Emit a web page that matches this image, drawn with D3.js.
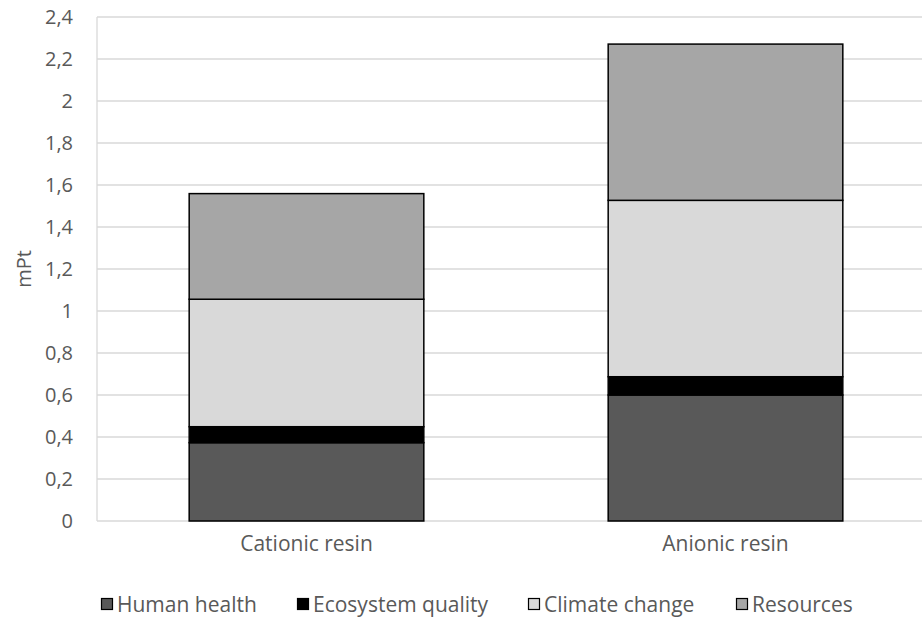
<!DOCTYPE html>
<html>
<head>
<meta charset="utf-8">
<script src="https://cdn.jsdelivr.net/npm/d3@7"></script>
<style>
  html, body { margin: 0; padding: 0; background: #fff; }
  svg { display: block; }
  text { font-family: "Open Sans", "Liberation Sans", sans-serif; fill: #595959; }
</style>
</head>
<body>
<svg id="chart" width="922" height="618"></svg>
<script>
const categories = ["Cationic resin", "Anionic resin"];
const seriesNames = ["Human health", "Ecosystem quality", "Climate change", "Resources"];
const humanHealth = [0.373, 0.600];
const ecosystemQuality = [0.076, 0.087];
const climateChange = [0.607, 0.840];
const resources = [0.503, 0.744];
const yTicks = [0, 0.2, 0.4, 0.6, 0.8, 1, 1.2, 1.4, 1.6, 1.8, 2, 2.2, 2.4];
const colors = ["#595959", "#000000", "#d9d9d9", "#a6a6a6"];

const seriesValues = [humanHealth, ecosystemQuality, climateChange, resources];
const table = categories.map((c, i) => {
  const row = { category: c };
  seriesNames.forEach((s, j) => { row[s] = seriesValues[j][i]; });
  return row;
});

const svg = d3.select("#chart");
const plotLeft = 97, plotRight = 935, plotTop = 17, plotBottom = 521;

const x = d3.scaleBand().domain(categories).range([plotLeft, plotRight])
  .paddingInner(0.44).paddingOuter(0.22);
const y = d3.scaleLinear().domain([0, 2.4]).range([plotBottom, plotTop]);

const fmt = v => d3.format("~g")(v).replace(".", ",");

// gridlines
svg.append("g").selectAll("line").data(yTicks.filter(t => t > 0)).join("line")
  .attr("x1", plotLeft).attr("x2", 922)
  .attr("y1", d => y(d)).attr("y2", d => y(d))
  .attr("stroke", "#d9d9d9").attr("stroke-width", 1.3);

// axis lines
svg.append("line").attr("x1", plotLeft).attr("x2", plotLeft)
  .attr("y1", y(2.4)).attr("y2", plotBottom).attr("stroke", "#d9d9d9").attr("stroke-width", 1.3);
svg.append("line").attr("x1", plotLeft).attr("x2", 922)
  .attr("y1", plotBottom).attr("y2", plotBottom).attr("stroke", "#d9d9d9").attr("stroke-width", 1.3);

// y tick labels
const yAxis = d3.axisLeft(y).tickValues(yTicks).tickFormat(fmt).tickSize(0).tickPadding(0);
const yg = svg.append("g").attr("transform", `translate(73,0)`).call(yAxis);
yg.select(".domain").remove();
yg.selectAll("text").attr("font-size", 20).attr("fill", "#595959")
  .style("font-family", '"Open Sans", sans-serif');

// x labels
const xAxis = d3.axisBottom(x).tickSize(0).tickPadding(0);
const xg = svg.append("g").attr("transform", `translate(0,536)`).call(xAxis);
xg.select(".domain").remove();
xg.selectAll("text").attr("font-size", 21).attr("fill", "#595959")
  .style("font-family", '"Open Sans", sans-serif');

// stacked bars
const stack = d3.stack().keys(seriesNames);
const stacked = stack(table);
svg.append("g").selectAll("g").data(stacked).join("g")
  .attr("fill", (d, i) => colors[i])
  .selectAll("rect").data(d => d).join("rect")
  .attr("x", d => x(d.data.category))
  .attr("width", x.bandwidth())
  .attr("y", d => y(d[1]))
  .attr("height", d => y(d[0]) - y(d[1]))
  .attr("stroke", "#000").attr("stroke-width", 1.5);

// y axis title
svg.append("text")
  .attr("transform", `translate(31,${(plotTop + plotBottom) / 2}) rotate(-90)`)
  .attr("text-anchor", "middle")
  .attr("font-size", 20)
  .text("mPt");

// legend
const legendX = [101, 297, 528, 736];
const lg = svg.append("g").selectAll("g").data(seriesNames).join("g")
  .attr("transform", (d, i) => `translate(${legendX[i]},598)`);
lg.append("rect").attr("x", 0.5).attr("y", 0.5).attr("width", 11).attr("height", 11)
  .attr("fill", (d, i) => colors[i]).attr("stroke", "#000").attr("stroke-width", 1.2);
lg.append("text").attr("x", 16).attr("y", 14).attr("font-size", 21).text(d => d);
</script>
</body>
</html>
